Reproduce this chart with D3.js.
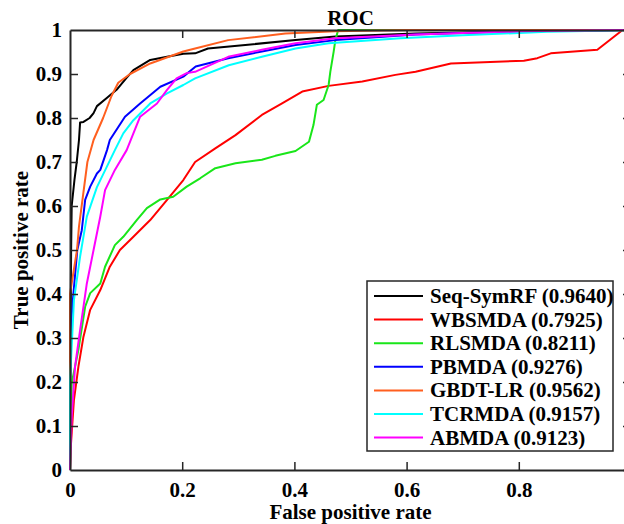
<!DOCTYPE html>
<html><head><meta charset="utf-8">
<script src="https://cdn.jsdelivr.net/npm/d3@7"></script>
<style>
html,body{margin:0;padding:0;background:#fff;overflow:hidden}
svg text{font-family:"Liberation Serif","Times New Roman",serif;font-weight:bold;fill:#000}
</style></head>
<body><svg id="c" width="624" height="524"></svg>
<script>
const xTicks = [0, 0.2, 0.4, 0.6, 0.8, 1];
const yTicks = [0, 0.1, 0.2, 0.3, 0.4, 0.5, 0.6, 0.7, 0.8, 0.9, 1];
const xTickLabels = ["0", "0.2", "0.4", "0.6", "0.8", "1"];
const yTickLabels = ["0", "0.1", "0.2", "0.3", "0.4", "0.5", "0.6", "0.7", "0.8", "0.9", "1"];

const seriesNames = ["Seq-SymRF (0.9640)", "WBSMDA (0.7925)", "RLSMDA (0.8211)", "PBMDA (0.9276)", "GBDT-LR (0.9562)", "TCRMDA (0.9157)", "ABMDA (0.9123)"];
const seriesColors = ["#000000", "#ff0000", "#19e619", "#0000ff", "#ff5f1f", "#00ffff", "#ff00ff"];

// [fpr, tpr] pairs
const seqSymRF = [[0,0],[0.001,0.3],[0.002,0.5],[0.003,0.6],[0.008,0.66],[0.012,0.7],[0.016,0.75],[0.018,0.79],[0.024,0.791],[0.035,0.80],[0.042,0.811],[0.048,0.827],[0.065,0.845],[0.083,0.864],[0.1,0.89],[0.113,0.909],[0.143,0.932],[0.173,0.939],[0.202,0.946],[0.223,0.947],[0.246,0.958],[0.3125,0.966],[0.402,0.977],[0.473,0.985],[0.616,0.992],[0.8,0.997],[1,1]];
const wbsmda = [[0,0],[0.001,0.045],[0.007,0.159],[0.015,0.235],[0.024,0.303],[0.036,0.364],[0.054,0.409],[0.071,0.462],[0.089,0.5],[0.113,0.53],[0.143,0.568],[0.173,0.614],[0.202,0.659],[0.223,0.70],[0.259,0.731],[0.295,0.761],[0.342,0.807],[0.378,0.833],[0.414,0.86],[0.461,0.873],[0.521,0.883],[0.580,0.898],[0.616,0.905],[0.679,0.924],[0.809,0.93],[0.833,0.936],[0.857,0.947],[0.94,0.955],[0.985,1],[1,1]];
const rlsmda = [[0,0],[0.003,0.197],[0.015,0.273],[0.027,0.371],[0.036,0.402],[0.054,0.424],[0.0625,0.462],[0.08,0.511],[0.095,0.53],[0.119,0.568],[0.137,0.595],[0.161,0.615],[0.184,0.621],[0.208,0.644],[0.232,0.663],[0.259,0.686],[0.295,0.697],[0.342,0.705],[0.366,0.714],[0.402,0.725],[0.426,0.746],[0.434,0.784],[0.44,0.83],[0.452,0.841],[0.461,0.875],[0.464,0.905],[0.47,0.951],[0.473,0.977],[0.478,1],[1,1]];
const pbmda = [[0,0],[0,0.3],[0.006,0.4],[0.013,0.5],[0.021,0.545],[0.027,0.614],[0.036,0.644],[0.048,0.674],[0.054,0.682],[0.066,0.727],[0.071,0.75],[0.098,0.803],[0.125,0.833],[0.161,0.871],[0.202,0.894],[0.224,0.917],[0.282,0.936],[0.342,0.951],[0.402,0.966],[0.473,0.977],[0.616,0.99],[0.8,0.997],[1,1]];
const gbdtLR = [[0,0],[0,0.4],[0.0125,0.5],[0.016,0.553],[0.031,0.70],[0.042,0.75],[0.059,0.80],[0.074,0.85],[0.086,0.88],[0.107,0.90],[0.143,0.924],[0.202,0.951],[0.223,0.958],[0.282,0.977],[0.384,0.992],[0.473,0.997],[0.6,1],[1,1]];
const tcrmda = [[0,0],[0,0.2],[0.007,0.386],[0.018,0.485],[0.03,0.576],[0.048,0.643],[0.08,0.727],[0.095,0.765],[0.113,0.795],[0.143,0.833],[0.173,0.856],[0.202,0.875],[0.223,0.89],[0.283,0.92],[0.342,0.939],[0.402,0.958],[0.461,0.97],[0.589,0.981],[0.7,0.988],[0.85,0.996],[1,1]];
const abmda = [[0,0],[0.003,0.121],[0.009,0.235],[0.018,0.318],[0.03,0.424],[0.042,0.5],[0.054,0.576],[0.0625,0.636],[0.08,0.682],[0.101,0.727],[0.113,0.765],[0.125,0.803],[0.155,0.833],[0.173,0.864],[0.19,0.89],[0.208,0.902],[0.223,0.905],[0.282,0.939],[0.342,0.955],[0.402,0.97],[0.473,0.981],[0.616,0.99],[0.8,0.997],[1,1]];
const seriesData = [seqSymRF, wbsmda, rlsmda, pbmda, gbdtLR, tcrmda, abmda];

const W = 624;
const svg = d3.select("#c");
const L = 70, R = 631, T = 30, B = 470;
const x = d3.scaleLinear().domain([0, 1]).range([L, R]);
const y = d3.scaleLinear().domain([0, 1]).range([B, T]);
const tickLen = 8;
const axisColor = "#262626";
const fs = "21px";

// curves
const line = d3.line().x(d => x(d[0])).y(d => y(d[1]));
const plot = svg.append("g");
seriesData.forEach((d, i) => {
  plot.append("path").datum(d).attr("d", line)
    .attr("fill", "none").attr("stroke", seriesColors[i])
    .attr("stroke-width", 2).attr("stroke-linejoin", "round");
});

// axes (MATLAB box style, inward ticks)
const fmtX = (d, i) => xTickLabels[i];
const fmtY = (d, i) => yTickLabels[i];
const gx = svg.append("g").attr("transform", `translate(0,${B})`)
  .call(d3.axisBottom(x).tickValues(xTicks).tickFormat(fmtX).tickSizeInner(-tickLen).tickSizeOuter(0).tickPadding(12));
const gxt = svg.append("g").attr("transform", `translate(0,${T})`)
  .call(d3.axisTop(x).tickValues(xTicks).tickFormat("").tickSizeInner(-tickLen).tickSizeOuter(0));
const gy = svg.append("g").attr("transform", `translate(${L},0)`)
  .call(d3.axisLeft(y).tickValues(yTicks).tickFormat(fmtY).tickSizeInner(-tickLen).tickSizeOuter(0).tickPadding(8));
const gyr = svg.append("g").attr("transform", `translate(${R},0)`)
  .call(d3.axisRight(y).tickValues(yTicks).tickFormat("").tickSizeInner(-tickLen).tickSizeOuter(0));
[gx, gxt, gy, gyr].forEach(g => {
  g.select(".domain").attr("stroke", axisColor).attr("stroke-width", 2);
  g.selectAll(".tick line").attr("stroke", axisColor).attr("stroke-width", 1.5);
  g.selectAll("text").style("font-size", fs).attr("font-family", null);
});
// labels whose position lies outside the picture are not shown (as in the reference)
gx.selectAll(".tick").filter(d => x(d) + 4 > W).select("text").remove();
gx.selectAll(".tick line").filter(d => d === 0).remove();
gxt.selectAll(".tick line").filter(d => d === 0 || d === 1).remove();
gy.selectAll(".tick line").filter(d => d === 0 || d === 1).remove();

// title and labels
svg.append("text").attr("x", (L + R) / 2).attr("y", 25).attr("text-anchor", "middle")
  .style("font-size", fs).text("ROC");
svg.append("text").attr("x", (L + R) / 2).attr("y", 519).attr("text-anchor", "middle")
  .style("font-size", fs).text("False positive rate");
svg.append("text").attr("transform", `translate(28,${(T + B) / 2}) rotate(-90)`).attr("text-anchor", "middle")
  .style("font-size", fs).text("True positive rate");

// legend
const lg = svg.append("g");
const lx = 367, ly = 281, lw = 246, lh = 170;
lg.append("rect").attr("x", lx).attr("y", ly).attr("width", lw).attr("height", lh)
  .attr("fill", "#fff").attr("stroke", axisColor).attr("stroke-width", 1.5);
seriesNames.forEach((n, i) => {
  const yy = ly + 15 + i * 23.6;
  lg.append("line").attr("x1", lx + 7).attr("x2", lx + 56).attr("y1", yy).attr("y2", yy)
    .attr("stroke", seriesColors[i]).attr("stroke-width", 2);
  lg.append("text").attr("x", lx + 63).attr("y", yy + 7).style("font-size", fs).text(n);
});
</script></body></html>
